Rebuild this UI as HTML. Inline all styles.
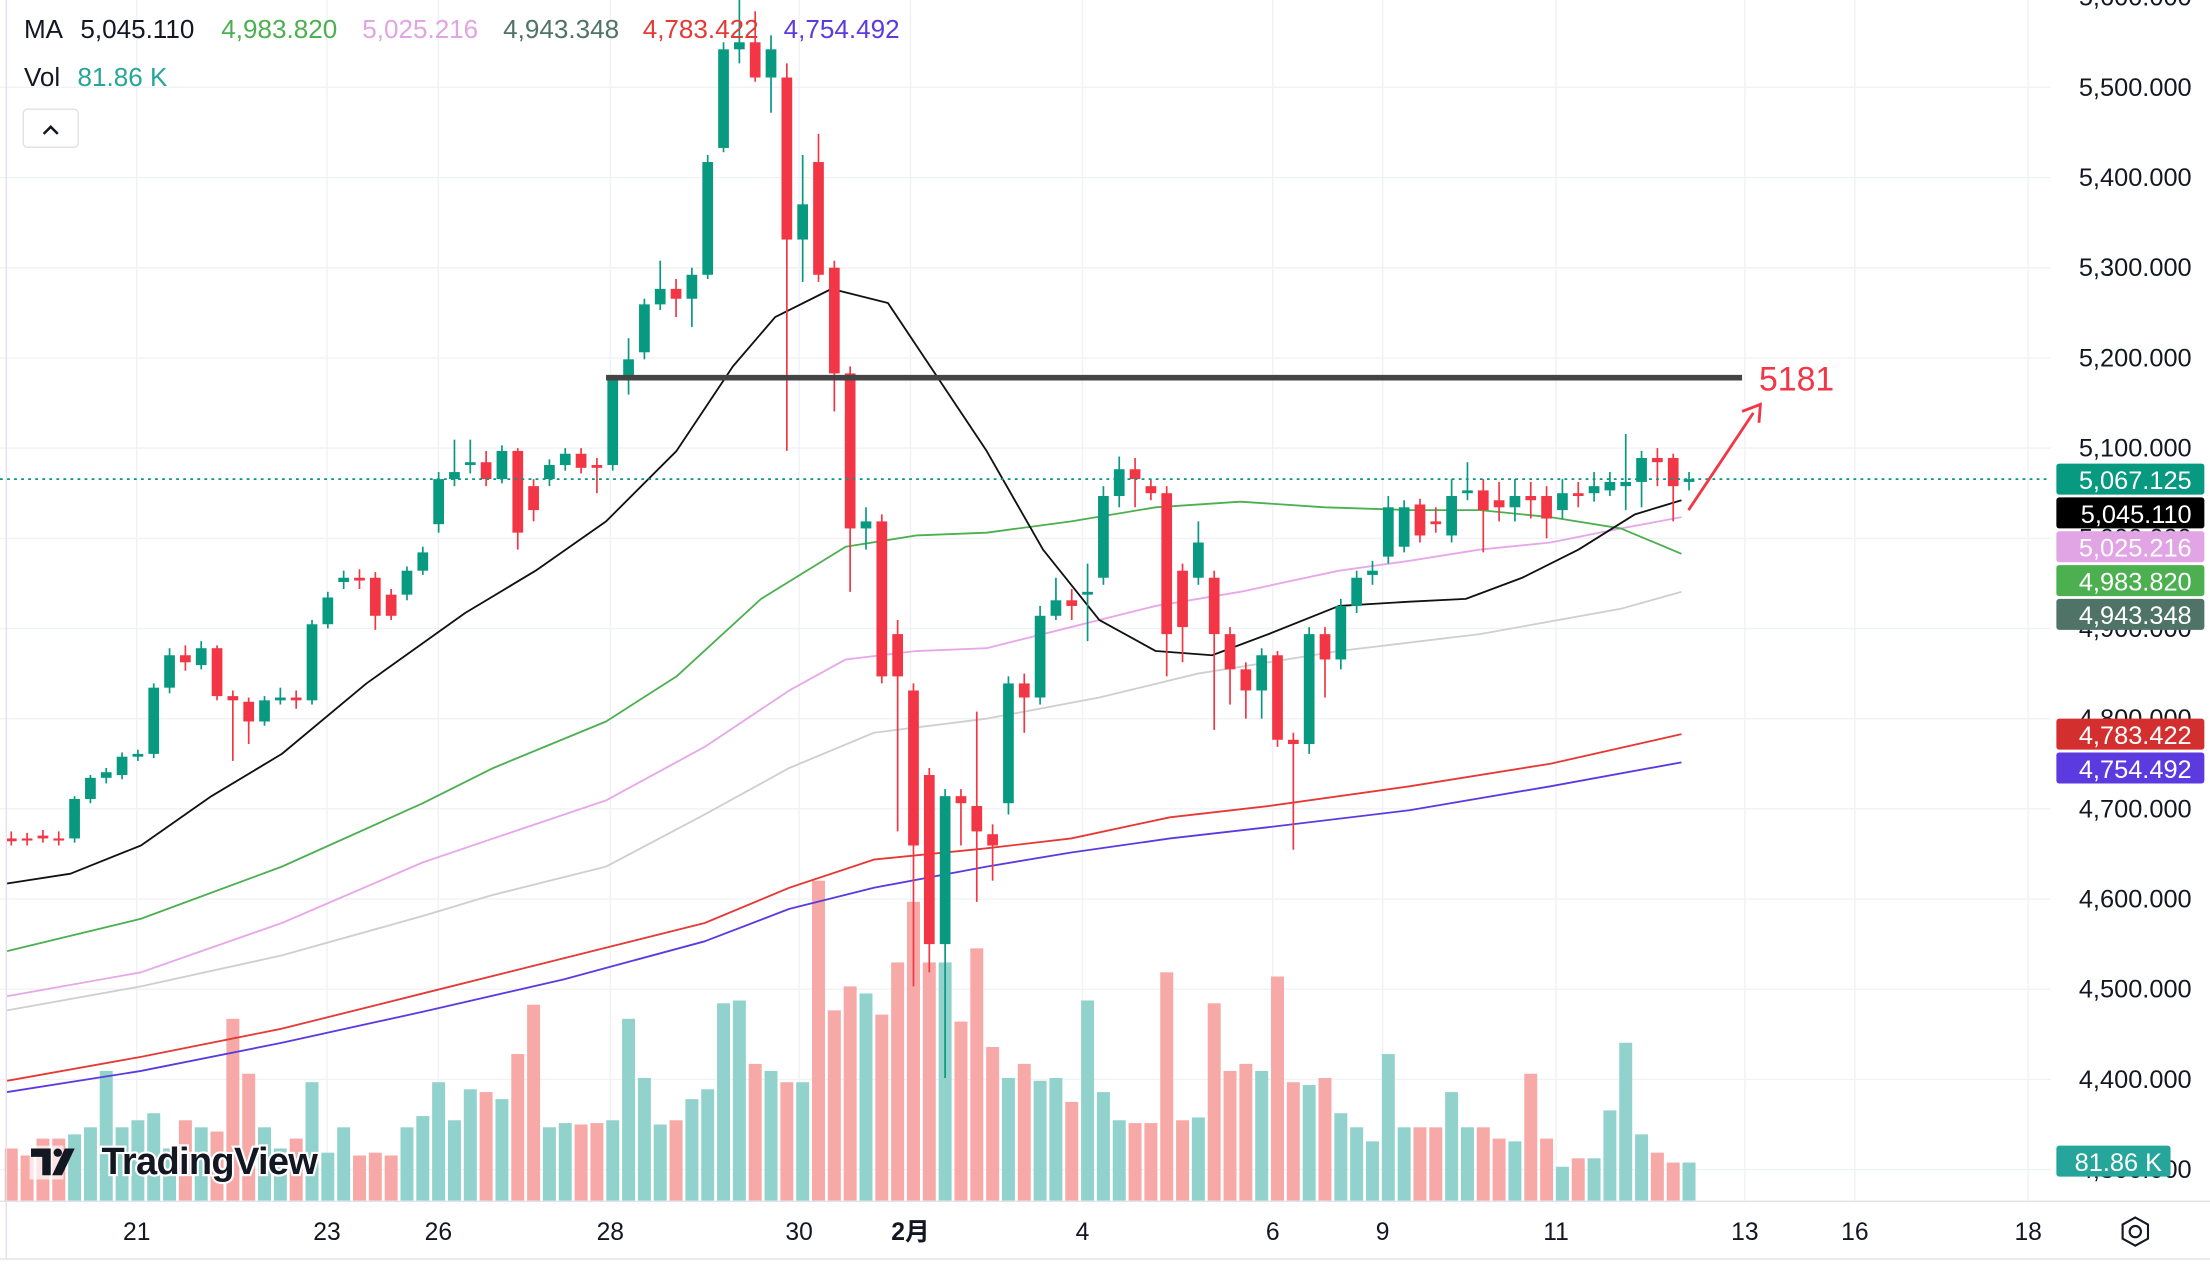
<!DOCTYPE html>
<html><head><meta charset="utf-8"><style>
html,body{margin:0;padding:0;background:#fff;}
svg{display:block;font-family:"Liberation Sans","Noto Sans CJK SC",sans-serif;}
</style></head><body>
<svg id="c" width="2210" height="1264" viewBox="0 0 1568 897" preserveAspectRatio="none" xmlns="http://www.w3.org/2000/svg">
<rect width="1568" height="897" fill="#fff"/>
<g id="grid" stroke="#f0f2f5" stroke-width="1"></g>
<g id="vol"></g>
<g fill="none" stroke-width="1.3" stroke-linejoin="round">
<polyline stroke="#cfcfcf" points="5,717 100,700 200,678 300,650 350,635 430,615 500,578 560,545 620,520 700,510 780,495 850,478 950,462 1050,450 1150,432 1193,420"/>
<polyline stroke="#e8a7e8" points="5,707 100,690 200,655 300,612 350,595 430,568 500,530 560,490 600,468 650,462 700,460 760,445 820,430 880,420 950,405 1000,398 1050,390 1100,385 1150,375 1193,367"/>
<polyline stroke="#e53935" points="5,767 100,750 200,730 300,705 400,680 500,655 560,630 620,610 700,602 760,595 830,580 900,572 1000,558 1100,542 1193,521"/>
<polyline stroke="#5b3ae0" points="5,775 100,760 200,740 300,718 400,695 500,668 560,645 620,630 700,615 760,605 830,595 900,587 1000,575 1100,558 1193,541"/>
<polyline stroke="#4caf50" points="5,675 100,652 200,615 300,570 350,545 430,512 480,480 540,425 600,388 650,380 700,378 760,370 820,360 880,356 940,360 1000,362 1050,362 1100,367 1150,375 1193,393"/>
<polyline stroke="#111" points="5,627 50,620 100,600 150,565 200,535 260,485 330,435 380,405 430,370 480,320 520,260 550,225 590,205 630,215 660,260 700,320 740,390 780,440 820,462 860,465 900,450 950,430 1000,427 1040,425 1080,410 1120,390 1160,365 1193,355"/>
</g>
<g id="cand"></g>
<line x1="0" y1="340" x2="1455" y2="340" stroke="#089981" stroke-width="1.3" stroke-dasharray="2,3"/>
<line x1="430" y1="268" x2="1236" y2="268" stroke="#444" stroke-width="4"/>
<line x1="1198" y1="362" x2="1244" y2="293" stroke="#f23645" stroke-width="2"/>
<polyline points="1236,292 1249,287 1248,300" fill="none" stroke="#f23645" stroke-width="2"/>
<text x="1248" y="277" font-size="24" fill="#f23645">5181</text>
<text y="27" font-size="18.5"><tspan x="17" fill="#131722">MA</tspan><tspan x="57" fill="#131722">5,045.110</tspan><tspan x="157" fill="#4caf50">4,983.820</tspan><tspan x="257" fill="#e1a4e4">5,025.216</tspan><tspan x="357" fill="#4f7366">4,943.348</tspan><tspan x="456" fill="#e53935">4,783.422</tspan><tspan x="556" fill="#5b3ae0">4,754.492</tspan></text>
<text y="61" font-size="18.5"><tspan x="17" fill="#131722">Vol</tspan><tspan x="55" fill="#26a69a">81.86 K</tspan></text>
<rect x="16.5" y="77.5" width="39" height="27" rx="3" fill="#fff" stroke="#dfe1e5"/>
<polyline points="31,95 36,90 41,95" fill="none" stroke="#131722" stroke-width="1.8"/>
<rect x="1455" y="0" width="113" height="852" fill="#fff"/>
<g font-size="18" fill="#131722" text-anchor="end" id="pax"></g>
<g font-size="18" fill="#fff" text-anchor="end">
<rect x="1459" y="329" width="105" height="22" rx="2" fill="#089981"/><text x="1555" y="347">5,067.125</text>
<rect x="1459" y="353" width="105" height="22" rx="2" fill="#000"/><text x="1555" y="371">5,045.110</text>
<rect x="1459" y="377" width="105" height="22" rx="2" fill="#e1a4e4"/><text x="1555" y="395">5,025.216</text>
<rect x="1459" y="401" width="105" height="22" rx="2" fill="#4caf50"/><text x="1555" y="419">4,983.820</text>
<rect x="1459" y="425" width="105" height="22" rx="2" fill="#4f7366"/><text x="1555" y="443">4,943.348</text>
<rect x="1459" y="510" width="105" height="22" rx="2" fill="#d32f2f"/><text x="1555" y="528">4,783.422</text>
<rect x="1459" y="534" width="105" height="22" rx="2" fill="#5b3ae0"/><text x="1555" y="552">4,754.492</text>
<rect x="1459" y="813" width="81" height="22" rx="2" fill="#26a69a"/><text x="1534" y="831">81.86 K</text>
</g>
<line x1="0" y1="852.5" x2="1568" y2="852.5" stroke="#e0e3eb"/>
<line x1="0" y1="893.5" x2="1568" y2="893.5" stroke="#e0e3eb"/>
<line x1="4.5" y1="0" x2="4.5" y2="893" stroke="#e0e3eb"/>
<g font-size="17.5" fill="#131722" text-anchor="middle">
<text x="97" y="880">21</text><text x="232" y="880">23</text><text x="311" y="880">26</text><text x="433" y="880">28</text><text x="567" y="880">30</text><text x="646" y="880" font-weight="bold">2月</text><text x="768" y="880">4</text><text x="903" y="880">6</text><text x="981" y="880">9</text><text x="1104" y="880">11</text><text x="1238" y="880">13</text><text x="1316" y="880">16</text><text x="1439" y="880">18</text>
</g>
<circle cx="1515" cy="874" r="4" fill="none" stroke="#131722" stroke-width="1.5"/>
<polygon points="1515,864 1524,869 1524,879 1515,884 1506,879 1506,869" fill="none" stroke="#131722" stroke-width="1.5"/>
<g>
<rect x="21" y="813" width="24" height="24" fill="#fff" opacity="0.7"/>
<path d="M22 815h14v19h-6v-13h-8z" fill="#131722"/>
<circle cx="41" cy="818" r="3" fill="#131722"/>
<path d="M46 815h7l-9 19h-7z" fill="#131722"/>
<text x="72" y="833" font-size="27" font-weight="bold" fill="#131722" stroke="#fff" stroke-width="3" paint-order="stroke" letter-spacing="-0.5">TradingView</text>
</g>
</svg>
<script>
var NS="http://www.w3.org/2000/svg";
function el(p,t,a){var e=document.createElementNS(NS,t);for(var k in a)e.setAttribute(k,a[k]);p.appendChild(e);return e;}
var grid=document.getElementById('grid');
for(var y=-2;y<852;y+=64)el(grid,'line',{x1:0,x2:1455,y1:y,y2:y});
[97,232,311,433,567,646,768,903,981,1104,1238,1316,1439].forEach(function(x){el(grid,'line',{x1:x,x2:x,y1:0,y2:852});});
var pax=document.getElementById('pax');
var pr=[5600,5500,5400,5300,5200,5100,5000,4900,4800,4700,4600,4500,4400,4300];
pr.forEach(function(p){var y=62+(5500-p)*0.64;var t=el(pax,'text',{x:1555,y:y+6});t.textContent=(p/1000|0)+","+String(p%1000).padStart(3,"0")+".000";});
var C=[[595,597,590,600],[595,596,591,600],[593,595,589,598],[595,596,590,600],[595,567,565,598],[567,552,550,570],[552,548,545,556],[550,537,534,553],[537,535,532,540],[535,488,485,538],[488,465,460,492],[465,470,458,476],[472,460,455,475],[460,494,458,497],[494,497,490,540],[498,512,495,528],[512,497,494,515],[497,495,488,500],[495,497,490,503],[497,443,440,500],[443,424,420,446],[413,410,405,418],[410,412,404,418],[410,437,406,447],[422,437,418,440],[422,405,402,426],[405,392,388,408],[372,340,335,378],[340,335,312,345],[330,328,312,336],[328,340,320,345],[340,320,316,343],[320,378,318,390],[345,362,340,370],[340,330,326,345],[330,322,318,334],[322,332,318,336],[330,332,325,350],[330,270,266,334],[270,255,240,280],[250,216,212,255],[216,205,185,220],[205,212,198,225],[212,195,190,232],[195,115,110,198],[105,35,30,108],[35,30,0,45],[30,55,8,58],[55,35,25,80],[55,170,45,320],[170,145,110,200],[115,195,95,200],[190,265,185,292],[265,375,260,420],[375,370,360,390],[370,480,365,485],[450,480,440,590],[490,600,485,700],[550,670,545,690],[670,565,560,765],[565,570,560,600],[572,590,505,640],[592,600,585,625],[570,485,480,578],[485,495,478,520],[495,437,430,500],[437,426,410,440],[426,430,418,440],[422,420,400,455],[410,352,345,415],[352,333,324,360],[333,340,325,360],[345,350,340,355],[350,450,345,480],[405,445,400,470],[410,385,370,415],[410,450,405,518],[450,475,445,500],[475,490,470,510],[490,465,460,510],[465,525,462,530],[525,528,520,603],[528,450,445,535],[450,468,445,495],[468,430,425,475],[430,410,405,435],[408,405,398,415],[395,360,352,400],[388,360,355,392],[358,380,354,385],[370,372,360,378],[380,352,340,385],[350,348,328,355],[348,362,340,392],[355,360,342,370],[360,352,340,370],[352,355,342,368],[352,368,345,382],[362,350,340,368],[350,352,342,360],[350,345,335,356],[348,342,335,352],[345,342,308,362],[342,325,320,360],[325,328,318,345],[325,345,322,370],[342,340,335,348]];
var V=[815,820,808,808,805,800,760,800,795,790,815,795,800,803,723,762,800,815,808,768,818,800,820,818,820,800,792,768,795,773,775,780,748,713,800,797,798,797,795,723,765,798,795,780,773,712,710,755,760,768,768,625,717,700,705,720,683,640,683,683,725,673,743,765,755,767,765,782,710,775,795,797,797,690,795,793,712,760,755,760,693,768,770,765,790,800,810,748,800,800,800,775,800,800,808,810,762,808,828,822,822,788,740,805,818,825,825];
var cg=document.getElementById('cand'),vg=document.getElementById('vol');
C.forEach(function(c,i){var x=8+11.23*i;var up=c[1]<=c[0];var col=up?'#089981':'#f23645';
el(cg,'line',{x1:x,x2:x,y1:c[2],y2:c[3],stroke:col,'stroke-width':1.2});
var t=Math.min(c[0],c[1]),h=Math.max(Math.abs(c[0]-c[1]),1.5);
el(cg,'rect',{x:x-3.8,y:t,width:7.6,height:h,fill:col});
var v=V[i]||820;el(vg,'rect',{x:x-4.6,y:v,width:9.2,height:852-v,fill:up?'#92d2cc':'#f7a9a7'});});
</script>
</body></html>
